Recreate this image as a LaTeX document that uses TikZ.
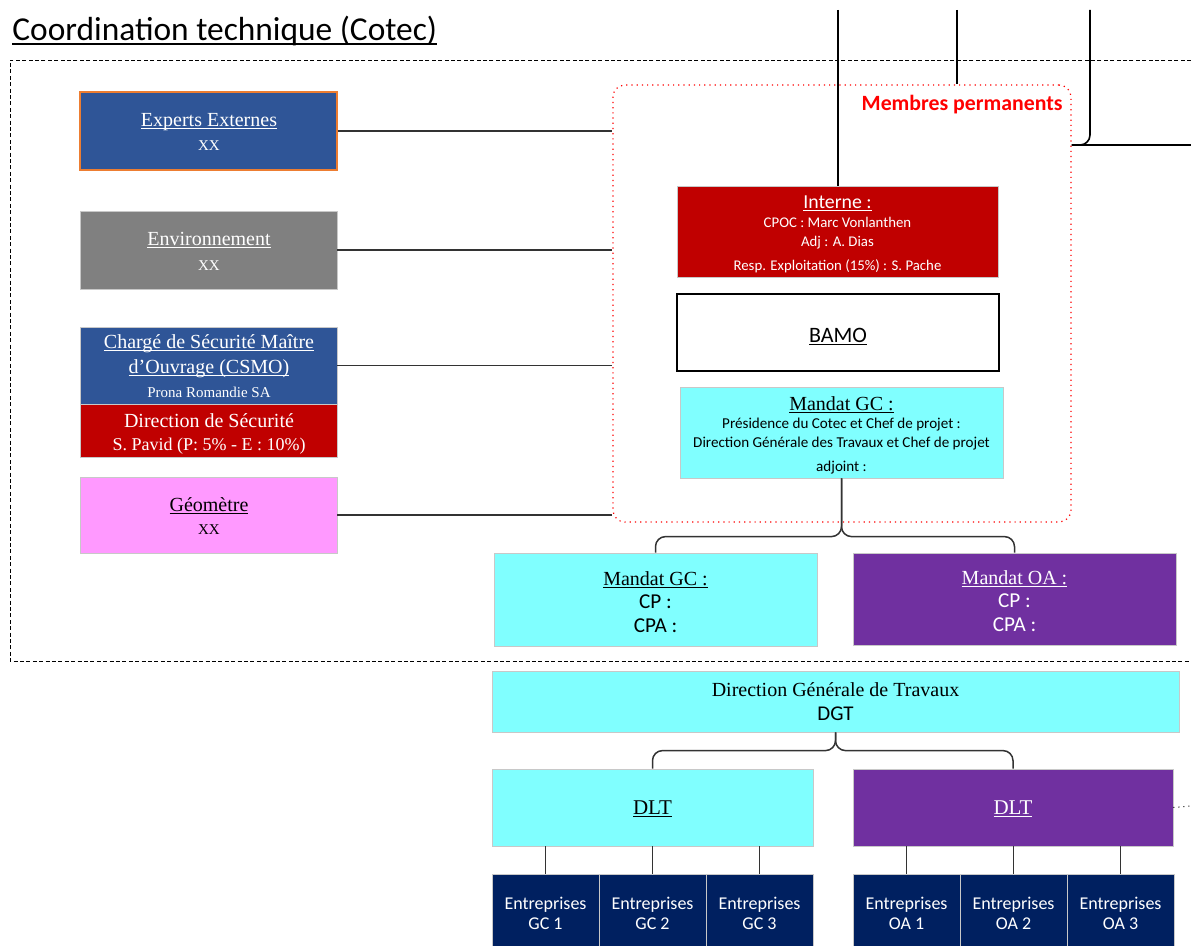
\documentclass[tikz,border=0pt]{standalone}
\usepackage{fontspec}
\setmainfont{Liberation Serif}
\newfontfamily\calib{Carlito}
\usetikzlibrary{calc}
\definecolor{cblue}{HTML}{2F5597}
\definecolor{cgray}{HTML}{808080}
\definecolor{cred}{HTML}{C00000}
\definecolor{cpink}{HTML}{FF99FF}
\definecolor{ccyan}{HTML}{80FFFF}
\definecolor{cpurple}{HTML}{7030A0}
\definecolor{cnavy}{HTML}{002060}
\definecolor{corange}{HTML}{ED7D31}
\definecolor{cborder}{HTML}{C8C8C8}
\newcommand{\fsz}[1]{\fontsize{#1}{#1}\selectfont}
\newcommand{\ulx}[3]{\leavevmode\setbox0\hbox{#3}\rlap{\rule[-#1]{\wd0}{#2}}\box0}
\newcommand{\uln}[1]{\ulx{1.2pt}{0.4pt}{#1}}
\begin{document}
\begin{tikzpicture}[x=0.5pt,y=-0.5pt,
  bx/.style n args={2}{rectangle, minimum width=#1pt, minimum height=#2pt, inner sep=0pt, draw=cborder, line width=0.4pt},
  txt/.style={anchor=base, inner sep=0pt, yshift=-1.2pt},
  conn/.style={draw=black!80, line width=0.75pt},
  topline/.style={draw=black, line width=0.8pt}]
\useasboundingbox (0,0) rectangle (1191,946);
\clip (0,0) rectangle (1191,946);

% title
\node[anchor=base west, inner sep=0pt] (title) at (12,41) {\calib\fsz{16.7}\ulx{1.8pt}{0.6pt}{Coordination technique (Cotec)}};

% outer dashed frame
\coordinate (f1) at (1191,60);
\coordinate (f2) at (10,60);
\coordinate (f3) at (10,661);
\coordinate (f4) at (1191,661);
\draw[line width=0.4pt, dash pattern=on 2pt off 1.2pt] (f1) -- (f2) -- (f3) -- (f4);

% permanent members frame
\node[rectangle, minimum width=229pt, minimum height=218.5pt, inner sep=0pt, draw=red, dotted, line width=0.6pt, rounded corners=6pt] (perm) at (842,303.5) {};
\node[anchor=base east, inner sep=0pt, text=red] (permt) at (1063,111) {\calib\bfseries\fsz{10.9}Membres permanents};

% left boxes
\node[bx={128.5}{39}, fill=cblue, draw=corange, line width=0.6pt] (exp) at (208.5,131) {};
\node[txt, text=white] at (209,124) {\fsz{10}\uln{Experts Externes}};
\node[txt, text=white] at (209,148) {\fsz{7.5}XX};

\node[bx={128.5}{39}, fill=cgray] (env) at (208.5,250) {};
\node[txt, text=white] at (209,243) {\fsz{10}\uln{Environnement}};
\node[txt, text=white] at (209,268) {\fsz{7.5}XX};

\node[bx={128.5}{38.5}, fill=cblue] (csmo) at (208.5,365.5) {};
\node[txt, text=white] at (209,346) {\fsz{10}\uln{Chargé de Sécurité Maître}};
\node[txt, text=white] at (209,371) {\fsz{10}\uln{d’Ouvrage (CSMO)}};
\node[txt, text=white] at (209,395) {\fsz{7.5}Prona Romandie SA};

\node[bx={128.5}{26.5}, fill=cred] (dir) at (208.5,430.5) {};
\node[txt, text=white] at (209,425) {\fsz{10}Direction de Sécurité};
\node[txt, text=white] at (209,448) {\fsz{9}S. Pavid (P: 5\% - E : 10\%)};

\node[bx={128.5}{38}, fill=cpink] (geo) at (208.5,515) {};
\node[txt] at (209,509) {\fsz{10}\uln{Géomètre}};
\node[txt] at (209,532) {\fsz{7.5}XX};

% permanent members inner boxes
\node[bx={160.5}{45.5}, fill=cred] (int) at (837.5,231.5) {};
\node[txt, text=white] at (837.5,206) {\calib\fsz{9.9}\uln{Interne :}};
\node[txt, text=white] at (837.5,225) {\calib\fsz{7.4}CPOC : Marc Vonlanthen};
\node[txt, text=white] at (837.5,244) {\calib\fsz{7.4}Adj : A. Dias};
\node[txt, text=white] at (837.5,268) {\calib\fsz{7.4}Resp. Exploitation (15\%) : S. Pache};

\node[bx={161}{38.5}, fill=white, draw=black, line width=0.7pt] (bamo) at (838,332.5) {};
\node[txt] at (838,340) {\calib\fsz{11}\uln{BAMO}};

\node[bx={161.5}{45.5}, fill=ccyan] (mgc) at (841.5,432.5) {};
\node[txt] at (841.5,408) {\fsz{10}\uln{Mandat GC :}};
\node[txt] at (841.5,426) {\calib\fsz{7.55}Présidence du Cotec et Chef de projet :};
\node[txt] at (841.5,445) {\calib\fsz{7.55}Direction Générale des Travaux et Chef de projet};
\node[txt] at (841.5,469) {\calib\fsz{7.55}adjoint :};

% mandates
\node[bx={161.5}{46.5}, fill=ccyan] (mgc2) at (655.5,599.5) {};
\node[txt] at (655.5,583) {\fsz{10}\uln{Mandat GC :}};
\node[txt] at (655.5,606) {\calib\fsz{10.6}CP :};
\node[txt] at (655.5,630) {\calib\fsz{10.6}CPA :};

\node[bx={161.5}{46}, fill=cpurple] (moa) at (1014.5,599) {};
\node[txt, text=white] at (1014.5,582) {\fsz{10}\uln{Mandat OA :}};
\node[txt, text=white] at (1014.5,605) {\calib\fsz{10.6}CP :};
\node[txt, text=white] at (1014.5,629) {\calib\fsz{10.6}CPA :};

% DGT
\node[bx={343.5}{30.5}, fill=ccyan] (dgt) at (835.5,701.5) {};
\node[txt] at (835.5,694) {\fsz{10}Direction Générale de Travaux};
\node[txt] at (835.5,718) {\calib\fsz{10.5}DGT};

% DLT
\node[bx={160.5}{38.5}, fill=ccyan] (dltgc) at (652.5,807.5) {};
\node[txt] at (652.5,812) {\fsz{10.5}\uln{DLT}};
\node[bx={160}{38.5}, fill=cpurple] (dltoa) at (1013,807.5) {};
\node[txt, text=white] at (1013,812) {\fsz{10.5}\uln{DLT}};

% enterprises
\foreach \nm/\cx/\lab in {g1/545.5/GC 1, g2/652.5/GC 2, g3/759.5/GC 3, o1/906.5/OA 1, o2/1013.5/OA 2, o3/1120.5/OA 3}{
  \node[bx={53.5}{38}, fill=cnavy, draw=cborder] (\nm) at (\cx,912) {};
  \node[txt, text=white] at (\cx,907) {\calib\fsz{9}Entreprises};
  \node[txt, text=white] at (\cx,927) {\calib\fsz{9}\lab};
}

% connectors left
\draw[conn] (exp.east) -- (exp.east -| perm.west);
\draw[conn] (env.east) -- (env.east -| perm.west);
\draw[conn] (csmo.east) -- (csmo.east -| perm.west);
\draw[conn] (geo.east) -- (geo.east -| perm.west);

% top lines
\coordinate (t1) at (838,10);
\coordinate (t2) at (957,10);
\coordinate (t3) at (1090,10);
\coordinate (t4) at (1191,145);
\draw[topline] (t1) -- (t1 |- int.north);
\draw[topline] (t2) -- (t2 |- perm.north);
\draw[topline, rounded corners=5pt] (t3) |- (perm.east |- t4);
\draw[topline] (perm.east |- t4) -- (t4);

% trees
\draw[conn, rounded corners=5pt] (mgc.south) |- ($(mgc2.north)+(0,-16)$) -- (mgc2.north);
\draw[conn, rounded corners=5pt] (mgc.south) |- ($(moa.north)+(0,-16)$) -- (moa.north);
\draw[conn, rounded corners=5pt] (dgt.south) |- ($(dltgc.north)+(0,-18)$) -- (dltgc.north);
\draw[conn, rounded corners=5pt] (dgt.south) |- ($(dltoa.north)+(0,-18)$) -- (dltoa.north);

\foreach \nm in {g1,g2,g3}{\draw[conn] (\nm.north |- dltgc.south) -- (\nm.north);}
\foreach \nm in {o1,o2,o3}{\draw[conn] (\nm.north |- dltoa.south) -- (\nm.north);}

\coordinate (dr) at (1191,806);
\draw[line width=0.5pt, dotted] (dltoa.east) -- (dr);
\end{tikzpicture}
\end{document}
